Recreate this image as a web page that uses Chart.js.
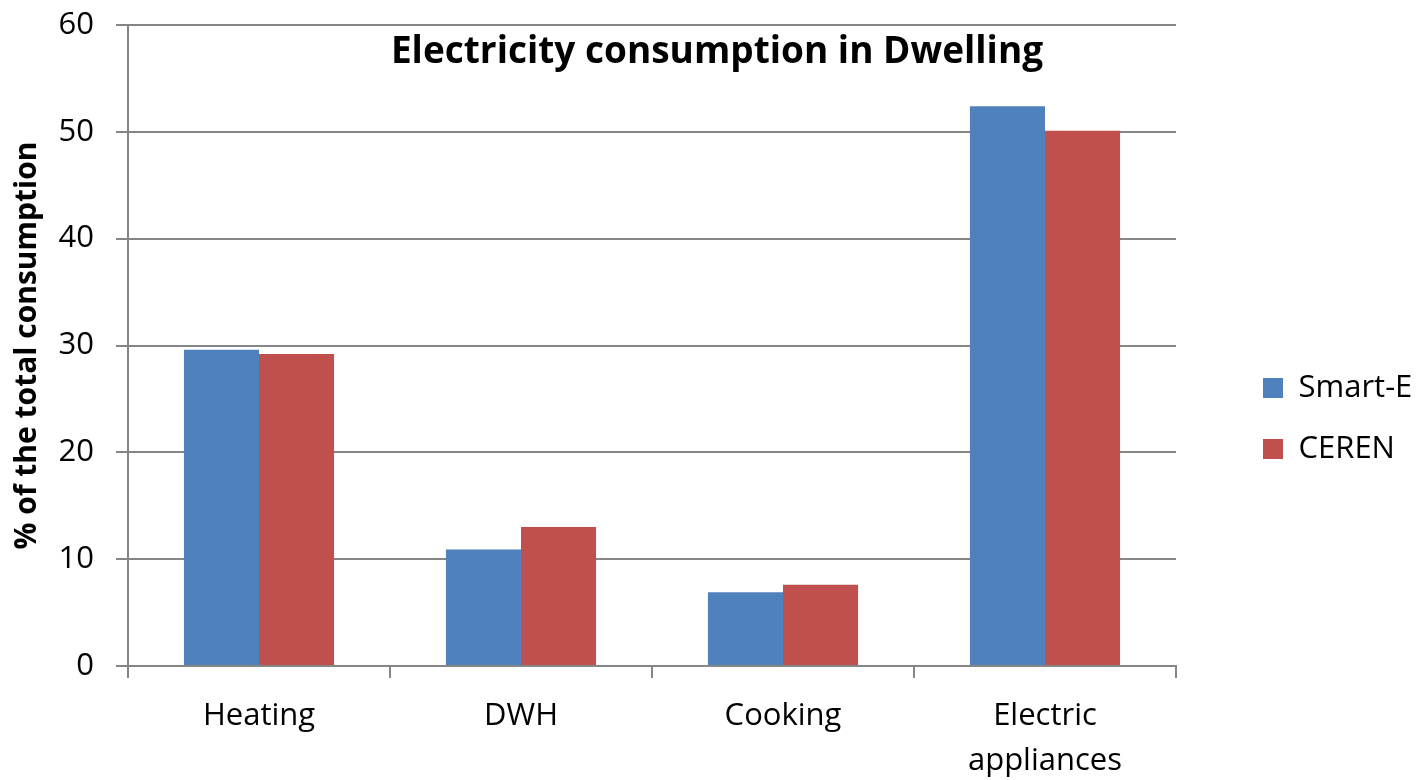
<!DOCTYPE html>
<html>
<head>
<meta charset="utf-8">
<script src="https://cdn.jsdelivr.net/npm/chart.js@4/dist/chart.umd.min.js"></script>
<style>
  html, body { margin: 0; padding: 0; background: #ffffff; }
  #wrap { width: 1418px; height: 780px; position: relative; }
</style>
</head>
<body>
<div id="wrap"><canvas id="chart" width="1418" height="780"></canvas></div>
<script>
// Share of household electricity use by end use (% of total consumption)
const categories = ['Heating', 'DWH', 'Cooking', ['Electric', 'appliances']];
const smartE = [29.6, 10.9, 6.9, 52.4];
const ceren = [29.2, 13.0, 7.6, 50.1];
const yTicks = [0, 10, 20, 30, 40, 50, 60];

const FONT = "'Open Sans', Lato, sans-serif";
const AXIS_GREY = '#868686';

// Plot-area edges and legend placement on the canvas
const PAD_LEFT = 9;
const PLOT_LEFT = 128;
const PLOT_TOP = 25;
const PLOT_RIGHT = 1176;
const LEGEND_ITEM_X = 1263;
const LEGEND_SHIFT_Y = 16;

// Chart title drawn inside the plot area
const titlePlugin = {
  id: 'innerTitle',
  afterDraw(chart) {
    const ctx = chart.ctx;
    ctx.save();
    ctx.font = "bold 37px " + FONT;
    ctx.fillStyle = '#000000';
    ctx.textAlign = 'center';
    ctx.textBaseline = 'middle';
    ctx.fillText('Electricity consumption in Dwelling', 717, 52);
    ctx.restore();
  }
};

// Reserve a wider column for the legend and move its items within it
const legendPlacement = {
  id: 'legendPlacement',
  afterInit(chart) {
    const lg = chart.legend;
    const fit = lg.fit.bind(lg);
    lg.fit = function () {
      fit();
      this.width = chart.width - PLOT_RIGHT - (chart.options.layout.padding.right || 0);
    };
  },
  afterLayout(chart) {
    const lg = chart.legend;
    const pad = lg.options.labels.padding;
    const w = lg.width;
    lg.left = LEGEND_ITEM_X - pad;
    lg.right = lg.left + w;
    lg.top += LEGEND_SHIFT_Y;
    lg.bottom += LEGEND_SHIFT_Y;
  }
};

new Chart(document.getElementById('chart'), {
  type: 'bar',
  data: {
    labels: categories,
    datasets: [
      { label: 'Smart-E', data: smartE, backgroundColor: '#4F81BD' },
      { label: 'CEREN', data: ceren, backgroundColor: '#C0504D' }
    ]
  },
  options: {
    responsive: false,
    animation: false,
    layout: { padding: { top: PLOT_TOP, left: PAD_LEFT, right: 0, bottom: 0 } },
    datasets: {
      bar: { categoryPercentage: 0.573, barPercentage: 1.0 }
    },
    plugins: {
      legend: {
        position: 'right',
        labels: {
          boxWidth: 20,
          boxHeight: 20,
          padding: 30,
          color: '#000000',
          font: { family: FONT, size: 31 }
        }
      },
      tooltip: { enabled: false }
    },
    scales: {
      x: {
        grid: {
          drawOnChartArea: false,
          drawTicks: true,
          tickLength: 12,
          color: AXIS_GREY,
          lineWidth: 2
        },
        border: { color: AXIS_GREY, width: 2 },
        ticks: {
          color: '#000000',
          padding: 16,
          maxRotation: 0,
          font: { family: FONT, size: 31, lineHeight: 1.45 }
        },
        afterFit(scale) { scale.height = 114; }
      },
      y: {
        min: 0,
        max: 60,
        afterBuildTicks(scale) { scale.ticks = yTicks.map(v => ({ value: v })); },
        grid: {
          color: AXIS_GREY,
          lineWidth: 2,
          tickLength: 12
        },
        border: { color: AXIS_GREY, width: 2 },
        ticks: {
          color: '#000000',
          padding: 22,
          font: { family: FONT, size: 31 }
        },
        title: {
          display: true,
          text: '% of the total consumption',
          color: '#000000',
          font: { family: FONT, size: 30, weight: 'bold' },
          padding: 0
        },
        afterFit(scale) {
          scale.width = PLOT_LEFT - PAD_LEFT;
          scale.paddingTop = 0;
          scale.paddingBottom = 0;
        }
      }
    }
  },
  plugins: [titlePlugin, legendPlacement]
});
</script>
</body>
</html>
